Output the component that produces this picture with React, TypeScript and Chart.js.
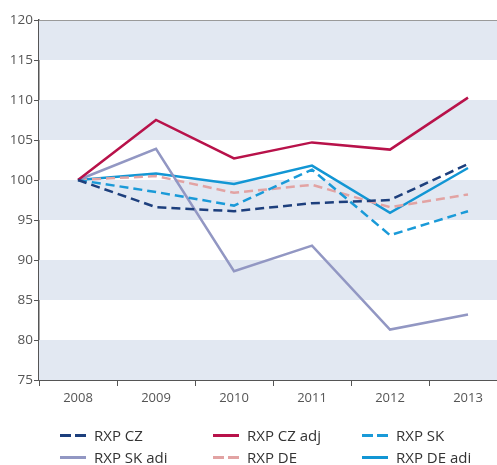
import React, { useEffect, useRef } from "react";
import { Chart, registerables } from "chart.js";

Chart.register(...registerables);

const years = ["2008", "2009", "2010", "2011", "2012", "2013"];
const rxpCz = [100, 96.6, 96.1, 97.1, 97.5, 102.0];
const rxpCzAdj = [100, 107.5, 102.7, 104.7, 103.8, 110.3];
const rxpSk = [100, 98.5, 96.8, 101.3, 93.1, 96.1];
const rxpSkAdj = [100, 103.9, 88.6, 91.8, 81.3, 83.2];
const rxpDe = [100, 100.5, 98.4, 99.4, 96.6, 98.2];
const rxpDeAdj = [100, 100.8, 99.5, 101.8, 95.9, 101.5];

const yMin = 75;
const yMax = 120;
const yStep = 5;

const NAVY = "#1d3f7d";
const CRIMSON = "#b8124a";
const SKY = "#1a9ad8";
const LAVENDER = "#9297c3";
const PINK = "#e2a3a3";
const BLUE = "#1296d4";
const BAND = "#e2e8f2";
const AXIS = "#555555";
const TEXT = "#555555";

const series = [
  { label: "RXP CZ", data: rxpCz, color: NAVY, dashed: true },
  { label: "RXP CZ adj", data: rxpCzAdj, color: CRIMSON, dashed: false },
  { label: "RXP SK", data: rxpSk, color: SKY, dashed: true },
  { label: "RXP SK adi", data: rxpSkAdj, color: LAVENDER, dashed: false },
  { label: "RXP DE", data: rxpDe, color: PINK, dashed: true },
  { label: "RXP DE adi", data: rxpDeAdj, color: BLUE, dashed: false },
];

const bandPlugin = {
  id: "bands",
  beforeDatasetsDraw(chart: any) {
    const { ctx, chartArea, scales } = chart;
    const y = scales.y;
    ctx.save();
    ctx.fillStyle = BAND;
    for (let v = yMax; v > yMin; v -= 2 * yStep) {
      const top = y.getPixelForValue(v);
      const bot = y.getPixelForValue(v - yStep);
      ctx.fillRect(chartArea.left, top, chartArea.right - chartArea.left, bot - top);
    }
    ctx.strokeStyle = "#9a9a9a";
    ctx.lineWidth = 1;
    const t = Math.round(y.getPixelForValue(yMax)) + 0.5;
    ctx.beginPath();
    ctx.moveTo(chartArea.left, t);
    ctx.lineTo(chartArea.right, t);
    ctx.stroke();
    ctx.restore();
  },
};

function Swatch({ color, dashed }: { color: string; dashed: boolean }) {
  if (!dashed) {
    return <span style={{ display: "inline-block", width: 26, height: 3, background: color, marginRight: 8 }} />;
  }
  return (
    <span style={{ display: "inline-flex", width: 26, marginRight: 8, justifyContent: "space-between" }}>
      <span style={{ display: "inline-block", width: 11, height: 3, background: color }} />
      <span style={{ display: "inline-block", width: 11, height: 3, background: color }} />
    </span>
  );
}

export default function App() {
  const ref = useRef<HTMLCanvasElement>(null);
  useEffect(() => {
    if (!ref.current) return;
    const chart = new Chart(ref.current, {
      type: "line",
      data: {
        labels: years,
        datasets: series.map((s) => ({
          label: s.label,
          data: s.data,
          borderColor: s.color,
          backgroundColor: s.color,
          borderWidth: 2.5,
          borderDash: s.dashed ? [9, 5] : [],
          pointRadius: 0,
          tension: 0,
          fill: false,
        })),
      },
      options: {
        animation: false,
        responsive: false,
        maintainAspectRatio: false,
        layout: { padding: { left: 0, top: 20, right: 13, bottom: 0 } },
        plugins: { legend: { display: false }, tooltip: { enabled: false }, title: { display: false } },
        scales: {
          x: {
            type: "category",
            offset: true,
            afterFit: (s: any) => {
              s.height = 85;
            },
            border: { display: true, color: AXIS, width: 1 },
            grid: {
              offset: true,
              drawOnChartArea: false,
              drawTicks: true,
              tickLength: 6,
              tickColor: AXIS,
              color: AXIS,
            },
            ticks: {
              color: TEXT,
              font: { family: "Open Sans", size: 13 },
              padding: 4,
              maxRotation: 0,
            },
          },
          y: {
            min: yMin,
            max: yMax,
            afterFit: (s: any) => {
              s.width = 39;
            },
            border: { display: true, color: AXIS, width: 1.5 },
            grid: {
              drawOnChartArea: false,
              drawTicks: true,
              tickLength: 5,
              tickColor: AXIS,
            },
            ticks: {
              stepSize: yStep,
              color: TEXT,
              font: { family: "Open Sans", size: 13.5 },
              padding: 1,
            },
          },
        },
      },
      plugins: [bandPlugin],
    } as any);
    return () => chart.destroy();
  }, []);

  const legendCols = [60, 213, 362];
  return (
    <div
      style={{
        position: "fixed",
        left: 0,
        top: 0,
        width: 497,
        height: 465,
        overflow: "hidden",
        background: "#fff",
      }}
    >
      <canvas ref={ref} width={520} height={465} style={{ position: "absolute", left: 0, top: 0, width: 520, height: 465 }} />
      {series.map((s, i) => {
        const col = i % 3;
        const row = Math.floor(i / 3);
        const x = legendCols[col];
        const yc = row === 0 ? 435 : 457;
        return (
          <div
            key={s.label}
            style={{
              position: "absolute",
              left: x,
              top: yc - 11,
              height: 22,
              display: "flex",
              alignItems: "center",
              fontFamily: "Open Sans",
              fontSize: 15,
              color: "#333",
              whiteSpace: "nowrap",
            }}
          >
            <Swatch color={s.color} dashed={s.dashed} />
            {s.label}
          </div>
        );
      })}
    </div>
  );
}
